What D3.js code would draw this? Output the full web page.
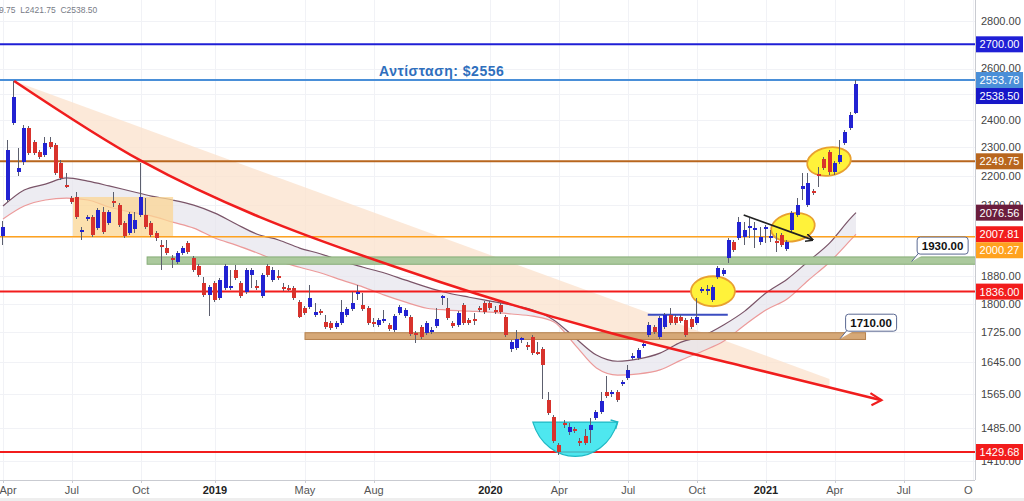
<!DOCTYPE html>
<html><head><meta charset="utf-8">
<script src="https://cdn.jsdelivr.net/npm/d3@7"></script>
<style>body{margin:0;background:#fff;overflow:hidden}svg{display:block;font-family:"Liberation Sans",Arial,sans-serif}</style>
</head><body><svg id="c" width="1024" height="501"></svg>
<script>
// ---------- DATA ----------
const startWeek = "2018-03-26";
const opens  = [2002,2118,2389,2212,2247,2370,2319,2283,2272,2319,2308,2244,2168,2124,2128,2014,2059,2062,2027,2079,2043,2114,2101,2043,2011,2024,2069,2069,2043,2011,1974,1965,1934,1922,1950,1981,1934,1910,1861,1826,1861,1818,1846,1846,1899,1861,1835,1884,1852,1823,1910,1869,1881,1849,1846,1846,1806,1789,1792,1770,1781,1751,1748,1737,1748,1770,1787,1829,1798,1789,1751,1743,1753,1743,1729,1775,1767,1764,1721,1737,1721,1724,1740,1818,1789,1748,1743,1798,1756,1759,1789,1803,1803,1784,1798,1764,1678,1681,1702,1689,1710,1670,1678,1550,1510,1445,1496,1475,1482,1454,1465,1479,1508,1522,1570,1565,1570,1589,1604,1658,1655,1687,1716,1737,1710,1737,1770,1764,1764,1756,1759,1748,1838,1838,1812,1878,1887,1934,1984,1996,1999,2027,2021,1984,2024,1996,1987,2005,1962,2021,2069,2154,2101,2148,2205,2258,2283,2212,2247,2315,2370,2425];
const highs  = [2049,2326,2550,2297,2381,2377,2326,2290,2337,2337,2315,2254,2209,2131,2144,2031,2069,2069,2091,2095,2085,2144,2108,2050,2079,2079,2244,2124,2050,2017,1990,1990,1944,1956,1971,1987,1940,1916,1878,1855,1866,1875,1916,1899,1913,1866,1905,1905,1869,1890,1916,1907,1899,1861,1855,1852,1812,1795,1855,1803,1787,1770,1753,1753,1812,1792,1835,1855,1832,1795,1762,1762,1784,1748,1773,1798,1789,1770,1727,1743,1753,1737,1789,1826,1818,1753,1781,1803,1762,1775,1795,1809,1809,1795,1803,1770,1702,1729,1710,1697,1716,1697,1684,1570,1514,1450,1503,1496,1487,1461,1482,1508,1526,1570,1609,1575,1575,1599,1637,1668,1681,1700,1751,1743,1767,1775,1789,1770,1770,1762,1764,1818,1849,1855,1855,1910,1905,1996,1990,2062,2046,2059,2046,2030,2037,2021,2011,2011,1990,2081,2124,2209,2209,2154,2230,2265,2290,2251,2326,2362,2428,2553.78];
const lows   = [1974,2111,2381,2198,2237,2272,2272,2258,2265,2294,2202,2185,2158,2104,2056,1990,2049,1999,2021,2008,2037,2095,2030,1996,2005,2011,2062,2024,1999,1987,1899,1944,1905,1916,1944,1947,1893,1878,1820,1767,1806,1812,1840,1840,1869,1818,1829,1846,1840,1818,1878,1863,1869,1838,1838,1812,1761,1770,1787,1764,1770,1732,1729,1732,1743,1764,1781,1812,1781,1743,1737,1737,1748,1727,1724,1770,1762,1713,1694,1705,1716,1718,1735,1798,1756,1735,1737,1743,1743,1743,1778,1773,1784,1773,1773,1710,1670,1676,1694,1676,1663,1663,1553,1514,1450,1423,1485,1468,1472,1443,1445,1450,1503,1517,1555,1558,1545,1584,1599,1650,1650,1681,1710,1718,1705,1732,1743,1743,1748,1710,1732,1743,1832,1826,1806,1872,1881,1919,1953,1990,1974,1996,1965,1974,1981,1984,1953,1968,1956,2014,2062,2118,2095,2134,2161,2219,2202,2202,2240,2308,2362,2421.75];
const closes = [2031,2290,2487,2226,2370,2279,2279,2265,2315,2301,2209,2192,2161,2111,2062,2021,2062,2005,2085,2014,2079,2108,2037,2002,2072,2053,2128,2030,2005,1995,1968,1950,1928,1950,1965,1953,1899,1884,1826,1849,1812,1869,1910,1852,1875,1823,1899,1899,1846,1884,1884,1899,1875,1843,1843,1818,1764,1775,1818,1778,1775,1737,1735,1748,1778,1787,1803,1835,1787,1748,1745,1756,1759,1732,1767,1792,1784,1718,1718,1710,1748,1729,1759,1823,1762,1740,1775,1748,1748,1753,1784,1778,1789,1778,1778,1716,1697,1705,1708,1684,1668,1668,1637,1519,1454,1430,1491,1487,1477,1450,1450,1491,1522,1548,1560,1570,1550,1594,1625,1660,1676,1692,1743,1724,1762,1770,1748,1748,1753,1716,1737,1764,1843,1843,1849,1905,1899,1990,1959,2046,2021,2033,2027,1999,2030,2002,1981,1974,1984,2075,2101,2165,2175,2141,2198,2226,2212,2244,2272,2355,2418,2538.50];

const maWeeks = [0,4,8,12,16,20,24,28,32,36,40,44,48,52,56,60,64,68,72,76,80,84,88,92,96,100,104,108,112,116,120,124,128,132,136,140,144,148,152,156,160,161];
const maUpper = [2098,2151,2171,2192,2181,2165,2148,2131,2118,2101,2075,2040,2008,1990,1965,1947,1925,1907,1890,1869,1849,1832,1820,1809,1798,1784,1756,1708,1663,1647,1653,1668,1697,1713,1743,1781,1832,1872,1925,1980,2059,2076.56];
const maLower = [2056,2098,2118,2124,2118,2095,2079,2066,2046,2027,1996,1974,1950,1925,1907,1890,1869,1849,1826,1806,1789,1784,1781,1778,1773,1767,1751,1689,1630,1612,1615,1625,1650,1673,1699,1743,1784,1815,1869,1922,1990,2007.81];

const yTicks = [2800,2600,2400,2300,2200,2100,1880,1800,1725,1645,1565,1485,1410];
const yGrid  = [2800,2700,2600,2500,2400,2300,2200,2100,2000,1880,1800,1725,1645,1565,1485,1410];
const xTickDates  = ["2018-03-26","2018-06-25","2018-09-24","2018-12-31","2019-04-29","2019-07-29","2019-12-30","2020-03-30","2020-06-29","2020-09-28","2020-12-28","2021-03-29","2021-06-28","2021-09-27"];
const xTickLabels = ["Apr","Jul","Oct","2019","May","Aug","2020","Apr","Jul","Oct","2021","Apr","Jul","Oct"];

const levelValues = [2700, 2553.78, 2249.75, 2000.27, 1836, 1429.68];
const levelColors = ["#1f1fd6","#4a8fd8","#b8661e","#ffa21f","#f21c1c","#f21c1c"];
const levelWidths = [2, 2, 2, 1.5, 2, 2];

const priceLabelValues = [2700, 2553.78, 2538.50, 2249.75, 2076.56, 2007.81, 2000.27, 1836, 1429.68];
const priceLabelColors = ["#1f1fd6","#4a8fd8","#1717c8","#b8661e","#6b1d3d","#f21c1c","#ffa21f","#f21c1c","#f21c1c"];

const greenZone = [1916, 1938], greenZoneWeeks = [27.2, 185];
const brownZone = [1704, 1722], brownZoneWeeks = [57, 162.8];
const orangeBoxWeeks = [13.2, 32.1], orangeBoxPrices = [2002, 2128];

const calloutLabels = ["1930.00", "1710.00"];
const calloutWeeks  = [171.5, 158];
const calloutPrices = [1924, 1706];

const trendWeeks  = [2.1, 26.2, 48.5, 82.5, 112.6, 141, 165.8];
const trendPrices = [2550, 2250, 2062, 1864, 1729, 1630, 1550];
const fanEnd = [156, 1602], fanEndCurve = [156, 1582];

const ellipseWeeks = [134, 149.1, 155.9];
const ellipsePrices = [1837, 2030, 2249];

const cupWeeks = [100, 116], cupTopPrice = 1498, cupBottomPrice = 1420;
const blueSegWeeks = [121.7, 136.8], blueSegPrice = 1771;
const blackArrowWeeks = [139.8, 152.8], blackArrowPrices = [2069, 1990];
const resistanceText = "Αντίσταση: $2556", resistanceWeek = 82.8, resistancePrice = 2553.78;
const headerText = "9.75  L2421.75  C2538.50";

// ---------- SCALES ----------
const svg = d3.select("#c");
const PR = 975, PB = 480;
const parse = d3.utcParse("%Y-%m-%d");
const t0 = parse(startWeek);
const wk = i => new Date(+t0 + i * 7 * 86400000);
const x = d3.scaleUtc().domain([wk(0), wk(161)]).range([3, 856]);
const y = d3.scaleLog().domain([1429.68, 2800]).range([452, 21]);
const X = i => x(wk(i));

svg.append("rect").attr("width",1024).attr("height",501).attr("fill","#fff");
const defs = svg.append("defs");
defs.append("clipPath").attr("id","plot").append("rect").attr("x",0).attr("y",0).attr("width",PR).attr("height",PB);
const mk = defs.append("marker").attr("id","arrBlack").attr("viewBox","0 0 10 10").attr("refX",9).attr("refY",5)
  .attr("markerWidth",8).attr("markerHeight",8).attr("orient","auto").attr("markerUnits","userSpaceOnUse");
mk.append("path").attr("d","M0,0 L10,5 L0,10").attr("fill","none").attr("stroke","#222").attr("stroke-width",2);

const plot = svg.append("g").attr("clip-path","url(#plot)");

// grid
plot.append("g").selectAll("line").data(xTickDates).join("line")
  .attr("x1",d=>Math.round(x(parse(d)))+0.5).attr("x2",d=>Math.round(x(parse(d)))+0.5)
  .attr("y1",0).attr("y2",PB).attr("stroke","#f1f2f6");
plot.append("g").selectAll("line").data(yGrid).join("line")
  .attr("x1",0).attr("x2",PR).attr("y1",d=>Math.round(y(d))+0.5).attr("y2",d=>Math.round(y(d))+0.5).attr("stroke","#f1f2f6");

// peach fan region
const fanPts = [[X(trendWeeks[0]), y(trendPrices[0])],[X(fanEnd[0]), y(fanEnd[1])],[X(fanEndCurve[0]), y(fanEndCurve[1])]];
for (let k = trendWeeks.length - 1; k >= 0; k--) if (trendWeeks[k] < fanEnd[0]) fanPts.push([X(trendWeeks[k]), y(trendPrices[k])]);
plot.append("path").attr("d", d3.line().curve(d3.curveLinear)(fanPts)+"Z").attr("fill","#fbe2cc").attr("opacity",0.75);

// MA band
const maData = maWeeks.map((w,k)=>({w, u:maUpper[k], l:maLower[k]}));
plot.append("path").datum(maData).attr("d", d3.area().curve(d3.curveMonotoneX).x(d=>X(d.w)).y0(d=>y(d.l)).y1(d=>y(d.u)))
  .attr("fill","#e6e4ec").attr("opacity",0.7);
plot.append("path").datum(maData).attr("d", d3.line().curve(d3.curveMonotoneX).x(d=>X(d.w)).y(d=>y(d.u)))
  .attr("fill","none").attr("stroke","#7a5468").attr("stroke-width",1.2);
plot.append("path").datum(maData).attr("d", d3.line().curve(d3.curveMonotoneX).x(d=>X(d.w)).y(d=>y(d.l)))
  .attr("fill","none").attr("stroke","#ec9a9a").attr("stroke-width",1.2);

// orange box
plot.append("rect").attr("x",X(orangeBoxWeeks[0])).attr("width",X(orangeBoxWeeks[1])-X(orangeBoxWeeks[0]))
  .attr("y",y(orangeBoxPrices[1])).attr("height",y(orangeBoxPrices[0])-y(orangeBoxPrices[1]))
  .attr("fill","#fbd593").attr("opacity",0.75);

// zones
function zone(wks, pr, fill, stroke){
  plot.append("rect").attr("x",X(wks[0])).attr("width",X(wks[1])-X(wks[0]))
    .attr("y",y(pr[1])).attr("height",y(pr[0])-y(pr[1])).attr("fill",fill).attr("stroke",stroke).attr("stroke-width",1);
}
zone(greenZoneWeeks, greenZone, "#abc99d", "#86ad78");
zone(brownZoneWeeks, brownZone, "#d6a877", "#b5814d");

// horizontal levels
plot.append("g").selectAll("line").data(levelValues).join("line")
  .attr("x1",0).attr("x2",PR).attr("y1",d=>y(d)).attr("y2",d=>y(d))
  .attr("stroke",(d,k)=>levelColors[k]).attr("stroke-width",(d,k)=>levelWidths[k]);

// ellipses
plot.append("g").selectAll("ellipse").data(ellipseWeeks).join("ellipse")
  .attr("cx",(d)=>X(d)).attr("cy",(d,k)=>y(ellipsePrices[k])).attr("rx",22).attr("ry",(d,k)=>k==0?15:14)
  .attr("transform",(d,k)=>k==0?null:`rotate(-10,${X(d)},${y(ellipsePrices[k])})`)
  .attr("fill","#fff23a").attr("stroke","#e8a030").attr("stroke-width",1.8);

// cup
{
  const xl = X(cupWeeks[0]), xr = X(cupWeeks[1]), yt = y(cupTopPrice), yb = y(cupBottomPrice);
  const cy = (yb - 0.25*yt)/0.75;
  plot.append("path").attr("d",`M${xl},${yt} C${xl+14},${cy} ${xr-14},${cy} ${xr},${yt} Z`)
    .attr("fill","#2fe3ec").attr("fill-opacity",0.85).attr("stroke","#1fb8c4").attr("stroke-width",1.2);
  plot.append("path").attr("d",`M${xr-7},${yt-2} L${xr},${yt} L${xr-2},${yt+7}`).attr("fill","none").attr("stroke","#1fb8c4").attr("stroke-width",1.5);
}

// blue segment
plot.append("line").attr("x1",X(blueSegWeeks[0])).attr("x2",X(blueSegWeeks[1]))
  .attr("y1",y(blueSegPrice)).attr("y2",y(blueSegPrice)).attr("stroke","#3b4cc0").attr("stroke-width",2);

// candles
const candles = opens.map((o,i)=>({i,o,h:highs[i],l:lows[i],c:closes[i]}));
const cg = plot.append("g").attr("shape-rendering","crispEdges");
cg.selectAll("rect.w").data(candles).join("rect").attr("class","w")
  .attr("x",d=>Math.round(X(d.i))-1).attr("width",1)
  .attr("y",d=>y(d.h)).attr("height",d=>Math.max(1,y(d.l)-y(d.h))).attr("fill","#5c5f6e");
cg.selectAll("rect.b").data(candles).join("rect").attr("class","b")
  .attr("x",d=>Math.round(X(d.i))-2).attr("width",4)
  .attr("y",d=>y(Math.max(d.o,d.c))).attr("height",d=>Math.max(1.5,Math.abs(y(d.o)-y(d.c))))
  .attr("fill",d=>d.c>=d.o?"#2222d2":"#d8322c");

// red trend curve
const tPts = trendWeeks.map((w,k)=>[X(w), y(trendPrices[k])]);
plot.append("path").attr("d", d3.line().curve(d3.curveCatmullRom)(tPts)).attr("fill","none")
  .attr("stroke","#f01d1d").attr("stroke-width",2.6);
{
  const [tx,ty] = tPts[tPts.length-1];
  plot.append("path").attr("d",`M${tx-11},${ty-7} L${tx},${ty} L${tx-10},${ty+5}`).attr("fill","none")
    .attr("stroke","#f01d1d").attr("stroke-width",2.2);
}

// black arrow
plot.append("line").attr("x1",X(blackArrowWeeks[0])).attr("y1",y(blackArrowPrices[0]))
  .attr("x2",X(blackArrowWeeks[1])).attr("y2",y(blackArrowPrices[1]))
  .attr("stroke","#222").attr("stroke-width",1.8).attr("marker-end","url(#arrBlack)");

// callouts
calloutLabels.forEach((t,k)=>{
  const ax = X(calloutWeeks[k]), ay = y(calloutPrices[k]);
  const bx = ax+5, by = ay-25, bw = 51, bh = 17;
  const g = plot.append("g");
  g.append("path").attr("d",`M${ax},${ay} L${bx+2},${by+bh-0.5} L${bx+10},${by+bh-0.5}`).attr("fill","#fff").attr("stroke","#5a6892").attr("stroke-width",1);
  g.append("rect").attr("x",bx+0.5).attr("y",by+0.5).attr("width",bw).attr("height",bh).attr("rx",3)
    .attr("fill","#fff").attr("stroke","#5a6892").attr("stroke-width",1);
  g.append("text").attr("x",bx+bw/2+0.5).attr("y",by+bh/2+0.5).attr("dy","0.36em").attr("text-anchor","middle")
    .attr("font-size",11.5).attr("font-weight","bold").attr("fill","#111").text(t);
});

// resistance text
plot.append("text").attr("x",X(resistanceWeek)).attr("y",y(resistancePrice)-4).attr("text-anchor","middle")
  .attr("font-size",14).attr("letter-spacing",0.5).attr("font-weight","bold").attr("fill","#2f6fbd").text(resistanceText);

// header
svg.append("text").attr("x",-1).attr("y",13).attr("font-size",8.5).attr("fill","#777b86").attr("xml:space","preserve").text(headerText);

// axes frame
svg.append("line").attr("x1",PR+0.5).attr("x2",PR+0.5).attr("y1",0).attr("y2",PB).attr("stroke","#c9cbd1");
svg.append("line").attr("x1",0).attr("x2",PR).attr("y1",PB+0.5).attr("y2",PB+0.5).attr("stroke","#c9cbd1");
svg.append("rect").attr("x",0).attr("y",498).attr("width",1024).attr("height",3).attr("fill","#eeeeee");

// x labels
defs.append("clipPath").attr("id","xlab").append("rect").attr("x",0).attr("y",PB).attr("width",PR-2).attr("height",21);
const xl = svg.append("g").attr("clip-path","url(#xlab)");
xl.selectAll("text").data(xTickDates).join("text")
  .attr("x",(d,k)=>Math.max(x(parse(d)), 8)).attr("y",494).attr("text-anchor","middle")
  .attr("font-size",11).attr("font-weight",(d,k)=>/^\d/.test(xTickLabels[k])?"bold":"normal")
  .attr("fill",(d,k)=>/^\d/.test(xTickLabels[k])?"#222":"#555").text((d,k)=>xTickLabels[k]);
xl.selectAll("line").data(xTickDates).join("line")
  .attr("x1",d=>Math.round(x(parse(d)))+0.5).attr("x2",d=>Math.round(x(parse(d)))+0.5)
  .attr("y1",PB).attr("y2",PB+3).attr("stroke","#c9cbd1");

// y tick labels
svg.append("g").selectAll("text").data(yTicks).join("text")
  .attr("x",981).attr("y",d=>y(d)).attr("dy","0.36em").attr("font-size",11).attr("fill","#444")
  .text(d=>d.toFixed(2));

// price labels with simple de-overlap
const pl = priceLabelValues.map((v,k)=>({v, c:priceLabelColors[k], yy:y(v)})).sort((a,b)=>a.yy-b.yy);
for (let k=1;k<pl.length;k++) if (pl[k].yy < pl[k-1].yy+16) pl[k].yy = pl[k-1].yy+16;
const pg = svg.append("g");
pl.forEach(d=>{
  pg.append("rect").attr("x",976).attr("y",d.yy-8).attr("width",47).attr("height",16).attr("fill",d.c);
  pg.append("text").attr("x",999.5).attr("y",d.yy).attr("dy","0.36em").attr("text-anchor","middle")
    .attr("font-size",11).attr("fill","#fff").text(d.v.toFixed(2));
});
</script></body></html>
